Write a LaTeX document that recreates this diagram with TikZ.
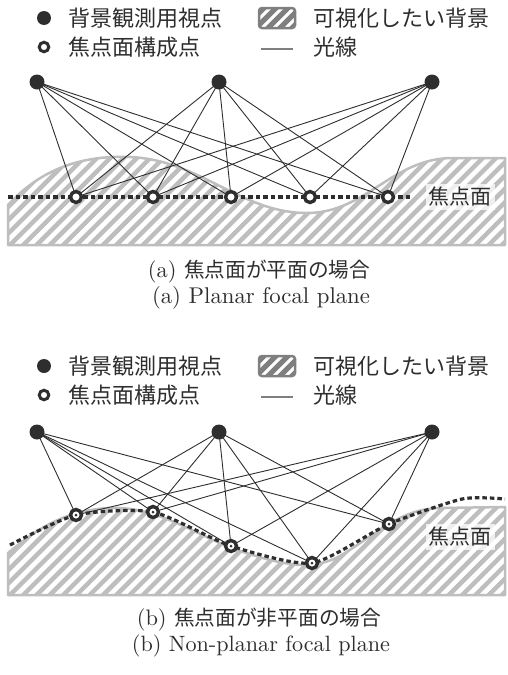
\documentclass[tikz,border=0pt]{standalone}
\usepackage{fontspec}
\usepackage{graphicx}
\newfontfamily\jp{Noto Sans CJK JP}
\newfontfamily\lmten{lmroman10-regular}[Extension=.otf]
\definecolor{dk}{HTML}{2E2E2E}
\definecolor{hg}{HTML}{BEBEBE}
\definecolor{lg}{HTML}{7F7F7F}
\newcommand\mylegend[1]{%
  \node[vp,minimum size=14pt] (#1d) at (44,0) {};
  \node[leg] (#1t1) at (68,0) {背景観測用視点};
  \begin{scope}
    \clip[rounded corners=3pt] (259,-10) rectangle (295,10);
    \foreach \i in {-3,...,4} \draw[line width=5pt,draw=lg] (250+\i*12,16) -- ++(30,-30);
  \end{scope}
  \draw[lg,line width=2.5pt,rounded corners=3pt] (259,-10) rectangle (295,10);
  \node[leg] (#1t2) at (313,0) {可視化したい背景};
  \node[fp,minimum size=9.5pt,line width=3pt] (#1o) at (44,29) {};
  \node[leg] (#1t3) at (68,29) {焦点面構成点};
  \coordinate (#1la) at (261,31);
  \coordinate (#1lb) at (293,31);
  \draw[lg,line width=1.4pt] (#1la) -- (#1lb);
  \node[leg] (#1t4) at (313,29) {光線};
}
\begin{document}
\begin{tikzpicture}[x=1pt,y=-1pt,
 vp/.style={circle,fill=dk,inner sep=0pt,minimum size=15pt},
 fp/.style={circle,draw=dk,line width=3.4pt,fill=white,inner sep=0pt,minimum size=11pt},
 ray/.style={line width=0.9pt,draw=dk},
 fline/.style={line width=3.2pt,draw=dk,dash pattern=on 4.5pt off 3pt},
 hatch/.style={line width=4.5pt,draw=hg},
 outline/.style={line width=2.5pt,draw=hg,line join=round},
 leg/.style={anchor=west,inner sep=0pt,font=\jp\fontsize{22}{26}\selectfont,text=dk},
 captext/.style={font=\lmten\fontsize{22.4}{26}\selectfont,inner sep=0pt,text=dk},
 flabel/.style={fill=white,fill opacity=0.75,text opacity=1,inner sep=3pt,font=\jp\fontsize{21}{25}\selectfont,text=dk},
 cdot/.style={circle,fill=dk,inner sep=0pt,minimum size=3pt}
]
\useasboundingbox (0,0) rectangle (508,675);

% ---------------- (a) ----------------
\begin{scope}[shift={(0,18)}]
\mylegend{a}
\end{scope}

\def\bgA{(8,245) -- (8,205) .. controls (40,170) and (80,155) .. (130,157) .. controls (200,160) and (240,212) .. (305,213) .. controls (365,214) and (390,160) .. (450,158) -- (505,158) -- (505,245) -- cycle}
\begin{scope}
  \clip \bgA;
  \foreach \i in {-10,...,42} \draw[hatch] (\i*13.3,255) -- ++(110,-110);
\end{scope}
\draw[outline] \bgA;

\coordinate (fa0) at (8,197);
\coordinate (fa9) at (412,197);
\draw[fline] (fa0) -- (fa9);
\node[flabel] (la) at (460,197) {焦点面};

\coordinate (va1) at (37,82);
\coordinate (va2) at (219,82);
\coordinate (va3) at (432,82);
\coordinate (pa1) at (76,197);
\coordinate (pa2) at (153,197);
\coordinate (pa3) at (231,197);
\coordinate (pa4) at (310,197);
\coordinate (pa5) at (388,197);
\foreach \v in {1,2,3} \foreach \p in {1,...,5} \draw[ray] (va\v) -- (pa\p);
\foreach \p in {1,...,5} \node[fp] (fpa\p) at (pa\p) {};
\foreach \v in {1,2,3} \node[vp] (vpa\v) at (va\v) {};

\node[captext] (ca1) at (259,272) {\resizebox{222pt}{!}{(a) {\jp\fontsize{20.7}{26}\selectfont 焦点面が平面の場合}}};
\node[captext] (ca2) at (261,298) {\resizebox{218pt}{!}{(a) Planar focal plane}};

% ---------------- (b) ----------------
\begin{scope}[shift={(0,366)}]
\mylegend{b}
\end{scope}

\def\bgB{(8,595) -- (8,553) .. controls (30,535) and (60,510) .. (110,508) .. controls (160,506) and (200,538) .. (240,551) .. controls (280,564) and (310,572) .. (340,556) .. controls (380,532) and (400,509) .. (440,508) -- (505,507) -- (505,595) -- cycle}
\begin{scope}
  \clip \bgB;
  \foreach \i in {-10,...,42} \draw[hatch] (\i*13.3,605) -- ++(120,-120);
\end{scope}
\draw[outline] \bgB;

\coordinate (pb1) at (76,515);
\coordinate (pb2) at (153,512);
\coordinate (pb3) at (231,546);
\coordinate (pb4) at (312,563);
\coordinate (pb5) at (389,524);
\draw[fline] plot[smooth,tension=0.4] coordinates {(10,545) (76,515) (153,512) (231,546) (312,563) (389,524) (462,499) (505,499)};
\node[flabel] (lb) at (460,537) {焦点面};

\coordinate (vb1) at (37,432);
\coordinate (vb2) at (219,432);
\coordinate (vb3) at (432,432);
\foreach \v in {1,2,3} \foreach \p in {1,...,5} \draw[ray] (vb\v) -- (pb\p);
\foreach \p in {1,...,5} {\node[fp] (fpb\p) at (pb\p) {}; \node[cdot] (cdb\p) at (pb\p) {};}
\foreach \v in {1,2,3} \node[vp] (vpb\v) at (vb\v) {};

\node[captext] (cb1) at (259,620) {(b) {\jp\fontsize{20.7}{26}\selectfont 焦点面が非平面の場合}};
\node[captext] (cb2) at (261,646) {\resizebox{258pt}{!}{(b) Non-planar focal plane}};
\end{tikzpicture}
\end{document}
